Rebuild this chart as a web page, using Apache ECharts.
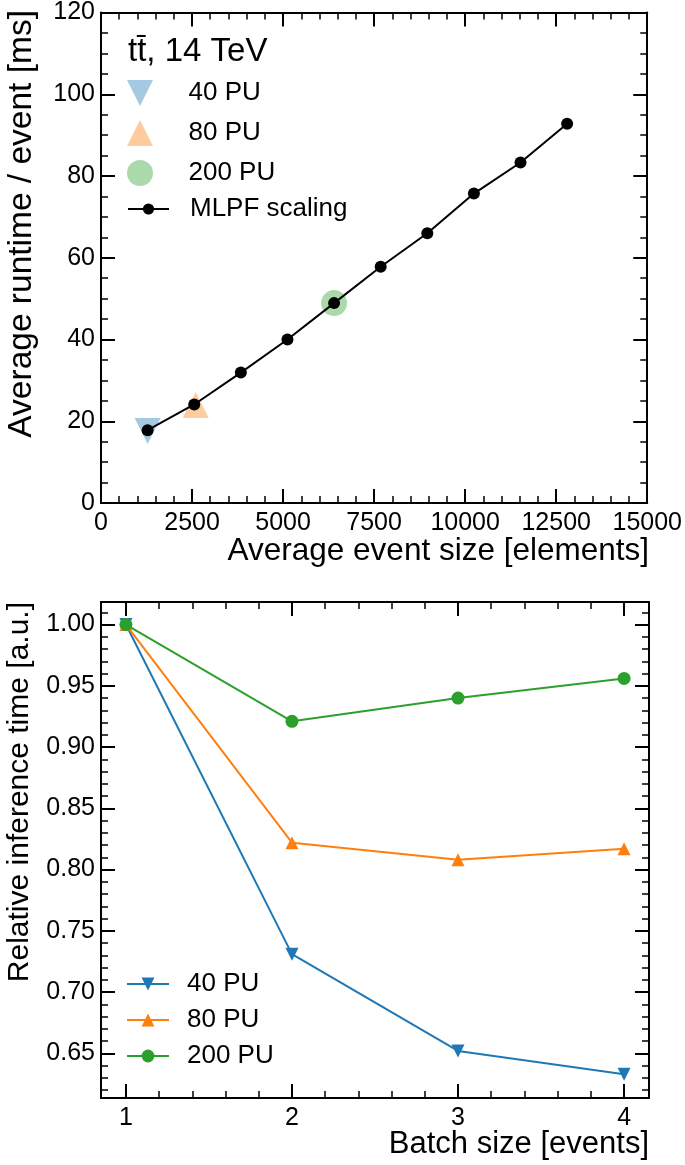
<!DOCTYPE html>
<html>
<head>
<meta charset="utf-8">
<script src="https://cdn.jsdelivr.net/npm/echarts@6/dist/echarts.min.js"></script>
<style>
  html, body { margin: 0; padding: 0; background: #fff; }
  #top { width: 685px; height: 580px; }
  #bottom { width: 685px; height: 585px; }
</style>
</head>
<body>
<div id="top"></div>
<div id="bottom"></div>
<script>
// top panel: average runtime vs average event size
const eventSize = [1280, 2560, 3840, 5120, 6400, 7680, 8960, 10240, 11520, 12800];
const runtimeMs = [17.8, 24.1, 31.9, 40.0, 48.9, 57.8, 66.0, 75.7, 83.3, 92.8];
const pu40 = [1280, 17.6];
const pu80 = [2600, 24.0];
const pu200 = [6400, 48.9];

// bottom panel: relative inference time vs batch size
const batchSize = [1, 2, 3, 4];
const rel40 = [1.0, 0.731, 0.652, 0.633];
const rel80 = [1.0, 0.822, 0.808, 0.817];
const rel200 = [1.0, 0.921, 0.940, 0.956];

const FONT = "'Liberation Sans', Arial, sans-serif";
const BLUE = '#1f77b4', ORANGE = '#ff7f0e', GREEN = '#2ca02c';
const DOWN = 'path://M0,0L2,0L1,2Z';
const UP = 'path://M1,0L2,2L0,2Z';

// one side of the frame; labels only on bottom/left
function side(position, range, extra, labels) {
  const a = {
    type: 'value',
    position: position,
    min: range[0],
    max: range[1],
    axisLine: { show: true, onZero: false, lineStyle: { color: '#000', width: 2 } },
    axisTick: { show: true, inside: true, length: 14, lineStyle: { color: '#000', width: 2 } },
    splitLine: { show: false },
    axisLabel: { show: false }
  };
  if (labels) {
    a.axisLabel = Object.assign({
      show: true, color: '#000', fontFamily: FONT, fontSize: 25, margin: 8
    }, labels);
  }
  return Object.assign(a, extra);
}

function minor(n) {
  return { show: true, splitNumber: n, length: 7, lineStyle: { color: '#000', width: 1.5 } };
}

function pairs(xs, ys) {
  return xs.map((x, i) => [x, ys[i]]);
}

// make sure every element (ticks included) is laid out and painted
function repaint(chart) {
  const zr = chart.getZr();
  zr.storage.getDisplayList(true);
  zr.refreshImmediately();
}

// ---------- top chart ----------
const topChart = echarts.init(document.getElementById('top'));
const xTop = [0, 15000], yTop = [0, 120];
const xTopExtra = { interval: 2500, minorTick: minor(5) };
const yTopExtra = { interval: 20, minorTick: minor(4) };

topChart.setOption({
  animation: false,
  grid: { left: 101, top: 10, width: 548, height: 493 },
  title: {
    text: 't\u0074\u0304, 14 TeV',
    left: 128, top: 35, padding: 0,
    textStyle: { fontFamily: FONT, fontSize: 33, fontWeight: 'normal', color: '#000' }
  },
  legend: [
    {
      orient: 'vertical', left: 127, top: 80, padding: 0,
      itemWidth: 41, itemHeight: 26, itemGap: 14,
      textStyle: { fontFamily: FONT, fontSize: 26, color: '#000', padding: [0, 0, 0, 23] },
      data: [
        { name: '40 PU', icon: DOWN },
        { name: '80 PU', icon: UP },
        { name: '200 PU', icon: 'circle' }
      ]
    },
    {
      orient: 'vertical', left: 127, top: 196, padding: 0,
      itemWidth: 41, itemHeight: 14,
      textStyle: { fontFamily: FONT, fontSize: 26, color: '#000', padding: [0, 0, 0, 16] },
      data: ['MLPF scaling']
    }
  ],
  xAxis: [
    side('bottom', xTop, xTopExtra, { formatter: v => String(v) }),
    side('top', xTop, xTopExtra, null)
  ],
  yAxis: [
    side('left', yTop, yTopExtra, { margin: 6, formatter: v => String(v) }),
    side('right', yTop, yTopExtra, null)
  ],
  graphic: [
    {
      type: 'text', x: 649, y: 551,
      style: { text: 'Average event size [elements]', fontFamily: FONT, fontSize: 31.5, fill: '#000', align: 'right', verticalAlign: 'middle' }
    },
    {
      type: 'text', x: 22, y: 10, rotation: Math.PI / 2,
      style: { text: 'Average runtime / event [ms]', fontFamily: FONT, fontSize: 33.5, fill: '#000', align: 'right', verticalAlign: 'middle' }
    }
  ],
  series: [
    {
      name: '40 PU', type: 'scatter', data: [pu40], symbol: DOWN, symbolSize: 26,
      itemStyle: { color: 'rgba(31,119,180,0.5)' }, z: 2
    },
    {
      name: '80 PU', type: 'scatter', data: [pu80], symbol: UP, symbolSize: 26,
      itemStyle: { color: 'rgba(255,127,14,0.5)' }, z: 2
    },
    {
      name: '200 PU', type: 'scatter', data: [pu200], symbol: 'circle', symbolSize: 26,
      itemStyle: { color: 'rgba(44,160,44,0.5)' }, z: 2
    },
    {
      name: 'MLPF scaling', type: 'line', data: pairs(eventSize, runtimeMs),
      symbol: 'circle', symbolSize: 12, showAllSymbol: true,
      lineStyle: { color: '#000', width: 2 },
      itemStyle: { color: '#000' }, z: 3
    }
  ]
});
repaint(topChart);

// ---------- bottom chart ----------
const bottomChart = echarts.init(document.getElementById('bottom'));
const xBot = [0.85, 4.15], yBot = [0.6136, 1.0184];
const xBotExtra = { splitNumber: 3, minorTick: minor(5) };
const yBotExtra = { splitNumber: 8, minorTick: minor(5) };

function relSeries(name, vals, color, symbol) {
  return {
    name: name, type: 'line', data: pairs(batchSize, vals),
    symbol: symbol, symbolSize: 13, showAllSymbol: true,
    lineStyle: { color: color, width: 2 },
    itemStyle: { color: color }
  };
}

bottomChart.setOption({
  animation: false,
  grid: { left: 101, top: 22, width: 548, height: 496 },
  legend: {
    orient: 'vertical', left: 126, top: 391, padding: 0,
    itemWidth: 42, itemHeight: 16, itemGap: 10,
    textStyle: { fontFamily: FONT, fontSize: 26, color: '#000', padding: [0, 0, 0, 13] },
    data: ['40 PU', '80 PU', '200 PU']
  },
  xAxis: [
    side('bottom', xBot, xBotExtra, { showMinLabel: false, showMaxLabel: false, margin: 8,
      formatter: v => String(Math.round(v)) }),
    side('top', xBot, xBotExtra, null)
  ],
  yAxis: [
    side('left', yBot, yBotExtra, { showMinLabel: false, showMaxLabel: false, margin: 6,
      formatter: v => v.toFixed(2) }),
    side('right', yBot, yBotExtra, null)
  ],
  graphic: [
    {
      type: 'text', x: 649, y: 564,
      style: { text: 'Batch size [events]', fontFamily: FONT, fontSize: 31, fill: '#000', align: 'right', verticalAlign: 'middle' }
    },
    {
      type: 'text', x: 20, y: 22, rotation: Math.PI / 2,
      style: { text: 'Relative inference time [a.u.]', fontFamily: FONT, fontSize: 30, fill: '#000', align: 'right', verticalAlign: 'middle' }
    }
  ],
  series: [
    relSeries('40 PU', rel40, BLUE, DOWN),
    relSeries('80 PU', rel80, ORANGE, UP),
    relSeries('200 PU', rel200, GREEN, 'circle')
  ]
});
repaint(bottomChart);
</script>
</body>
</html>
